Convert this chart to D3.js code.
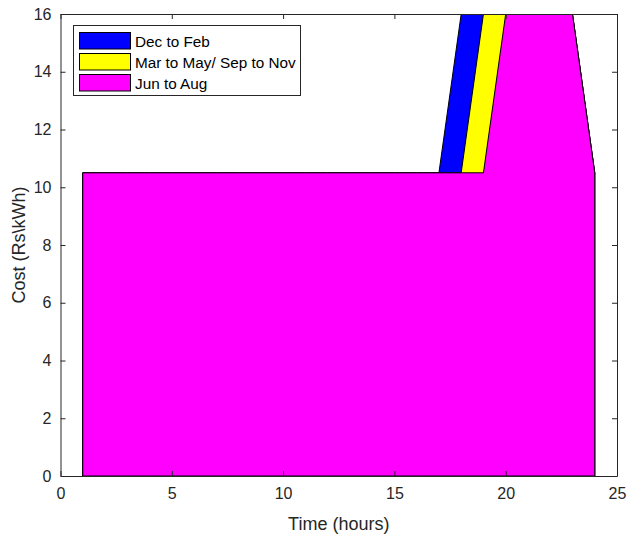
<!DOCTYPE html>
<html>
<head>
<meta charset="utf-8">
<script src="https://cdn.jsdelivr.net/npm/d3@7"></script>
<style>
  body { margin: 0; background: #fff; }
  svg text { font-family: "Liberation Sans", Arial, Helvetica, sans-serif; }
</style>
</head>
<body>
<svg id="chart" width="627" height="535"></svg>
<script>
// Hourly tariff (Rs per kWh) for each season, hours 1..24
const hours = d3.range(1, 25);
const decToFeb = [10.5,10.5,10.5,10.5,10.5,10.5,10.5,10.5,10.5,10.5,10.5,10.5,10.5,10.5,10.5,10.5,10.5,16,16,16,16,16,16,10.5];
const marToMaySepToNov = [10.5,10.5,10.5,10.5,10.5,10.5,10.5,10.5,10.5,10.5,10.5,10.5,10.5,10.5,10.5,10.5,10.5,10.5,16,16,16,16,16,10.5];
const junToAug = [10.5,10.5,10.5,10.5,10.5,10.5,10.5,10.5,10.5,10.5,10.5,10.5,10.5,10.5,10.5,10.5,10.5,10.5,10.5,16,16,16,16,10.5];

const seriesNames = ["Dec to Feb", "Mar to May/ Sep to Nov", "Jun to Aug"];
const seriesColors = ["#0000ff", "#ffff00", "#ff00ff"];
const seriesValues = [decToFeb, marToMaySepToNov, junToAug];

const xTicks = [0, 5, 10, 15, 20, 25];
const yTicks = [0, 2, 4, 6, 8, 10, 12, 14, 16];

const margin = { left: 60.5, top: 14 };
const plotW = 617 - margin.left;
const plotH = 476 - margin.top;

const svg = d3.select("#chart");
const g = svg.append("g").attr("transform", `translate(${margin.left},${margin.top})`);

const x = d3.scaleLinear().domain([0, 25]).range([0, plotW]);
const y = d3.scaleLinear().domain([0, 16]).range([plotH, 0]);

svg.append("defs").append("clipPath").attr("id", "plotClip")
  .append("rect").attr("x", 0).attr("y", 0).attr("width", plotW).attr("height", plotH);

const area = d3.area()
  .x(d => x(d[0]))
  .y0(y(0))
  .y1(d => y(d[1]));

// Season areas, drawn in order so later seasons overlay earlier ones
const areas = g.append("g").attr("clip-path", "url(#plotClip)");
seriesValues.forEach((vals, i) => {
  const pts = hours.map((h, k) => [h, vals[k]]);
  areas.append("path")
    .datum(pts)
    .attr("d", area)
    .attr("fill", seriesColors[i])
    .attr("stroke", "#000")
    .attr("stroke-width", 1)
    .attr("stroke-linejoin", "miter");
});

// Axes with inward ticks on all four sides
const axisColor = "#262626";
const xAxis = d3.axisBottom(x).tickValues(xTicks).tickSizeInner(-5).tickSizeOuter(0).tickPadding(12);
const yAxis = d3.axisLeft(y).tickValues(yTicks).tickSizeInner(-5).tickSizeOuter(0).tickPadding(9);
const xTop = d3.axisTop(x).tickValues(xTicks).tickSizeInner(-5).tickSizeOuter(0).tickFormat("");
const yRight = d3.axisRight(y).tickValues(yTicks).tickSizeInner(-5).tickSizeOuter(0).tickFormat("");

function styleAxis(sel) {
  sel.selectAll("path").attr("stroke", axisColor);
  sel.selectAll("line").attr("stroke", axisColor);
  sel.selectAll("text").attr("fill", axisColor).style("font-size", "16px");
}

g.append("g").attr("transform", `translate(0,${plotH})`).call(xAxis).call(styleAxis);
g.append("g").call(yAxis).call(styleAxis);
g.append("g").call(xTop).call(styleAxis);
g.append("g").attr("transform", `translate(${plotW},0)`).call(yRight).call(styleAxis);

// Axis titles
g.append("text")
  .attr("x", plotW / 2)
  .attr("y", plotH + 54)
  .attr("text-anchor", "middle")
  .attr("fill", axisColor)
  .style("font-size", "18px")
  .text("Time (hours)");

g.append("text")
  .attr("transform", `translate(${-36},${plotH / 2}) rotate(-90)`)
  .attr("text-anchor", "middle")
  .attr("fill", axisColor)
  .style("font-size", "18px")
  .text("Cost (Rs\\kWh)");

// Legend
const legend = svg.append("g");
legend.append("rect")
  .attr("x", 73.5).attr("y", 25.5).attr("width", 227).attr("height", 70)
  .attr("fill", "#fff").attr("stroke", "#262626").attr("stroke-width", 1);
seriesNames.forEach((name, i) => {
  const ry = 32.5 + i * 21;
  legend.append("rect")
    .attr("x", 79.5).attr("y", ry).attr("width", 51).attr("height", 16.5)
    .attr("fill", seriesColors[i]).attr("stroke", "#000").attr("stroke-width", 1);
  legend.append("text")
    .attr("x", 135).attr("y", ry + 14)
    .attr("fill", "#000")
    .style("font-size", "15.3px")
    .text(name);
});
</script>
</body>
</html>
